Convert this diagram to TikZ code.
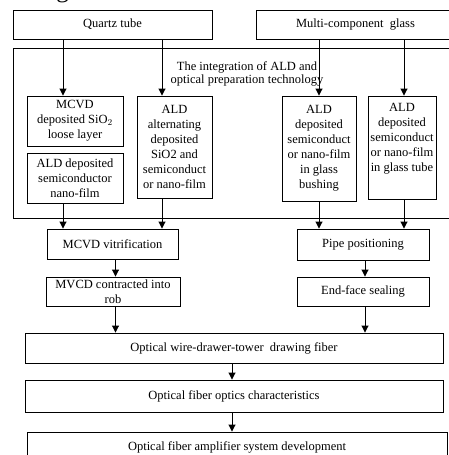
\documentclass[tikz,border=0pt]{standalone}
\usepackage{fontspec}
\setmainfont{Liberation Serif}
\usetikzlibrary{arrows.meta}
\tikzset{
  box/.style={draw, line width=0.9pt, inner sep=0pt, align=center,
    font=\fontsize{12.5}{15}\selectfont},
  arr/.style={line width=0.9pt, -{Triangle[length=7pt,width=7pt]}},
}
\begin{document}
\begin{tikzpicture}[x=1pt,y=-1pt]
\useasboundingbox (0,0) rectangle (448,455);
\node[anchor=base east, inner sep=0pt, font=\fontsize{25}{30}\selectfont] (figref) at (126,-2) {in Figure 1.};
% top sources
\node[box, minimum width=199pt, minimum height=29pt] (quartz) at (112.5,24.5) {Quartz tube};
\node[box, minimum width=199pt, minimum height=29pt] (multi) at (355.5,24.5) {Multi-component\ \ glass};
% container
\node[draw, line width=0.9pt, inner sep=0pt, minimum width=447pt, minimum height=170pt] (cont) at (236.5,133) {};
\node[align=center, inner sep=0pt, font=\fontsize{12.5}{13.5}\selectfont] (cap) at (247,74) {The integration of ALD and\\optical preparation technology};
% inner boxes
\node[box, minimum width=96pt, minimum height=50pt] (mcvd) at (75,121) {MCVD\\deposited SiO$_2$\\loose layer};
\node[box, minimum width=96pt, minimum height=50pt] (semi) at (75,178) {ALD deposited\\semiconductor\\nano-film};
\node[box, minimum width=75pt, minimum height=102pt] (alt) at (174.5,147) {ALD\\alternating\\deposited\\SiO2 and\\semiconduct\\or nano-film};
\node[box, minimum width=74pt, minimum height=105pt] (bush) at (319,148.5) {ALD\\deposited\\semiconduct\\or nano-film\\in glass\\bushing};
\node[box, minimum width=68pt, minimum height=103pt] (tube) at (402,147.5) {ALD\\deposited\\semiconduct\\or nano-film\\in glass tube\\[0pt]\strut};
% middle
\node[box, minimum width=131pt, minimum height=30pt] (vitr) at (112.5,244) {MCVD vitrification};
\node[box, minimum width=132pt, minimum height=31pt] (pipe) at (363,244.5) {Pipe positioning};
\node[box, minimum width=134pt, minimum height=29pt] (contr) at (113,291.5) {MVCD contracted into\\rob};
\node[box, minimum width=132pt, minimum height=29pt] (endf) at (363,291.5) {End-face sealing};
% bottom
\node[box, minimum width=418pt, minimum height=30pt] (wire) at (234,348) {Optical wire-drawer-tower\ \ drawing fiber};
\node[box, minimum width=418pt, minimum height=32pt] (char) at (234,396) {Optical fiber optics characteristics};
\node[box, minimum width=420pt, minimum height=31pt] (amp) at (237,447.5) {Optical fiber amplifier system development};
% columns
\coordinate (c1) at (63,0);
\coordinate (c2) at (162,0);
\coordinate (c3) at (319,0);
\coordinate (c4) at (404,0);
\coordinate (c5) at (115.5,0);
\coordinate (c6) at (365,0);
\coordinate (c7) at (232,0);
% arrows
\draw[arr] (quartz.south -| c1) -- (mcvd.north -| c1);
\draw[arr] (quartz.south -| c2) -- (alt.north -| c2);
\draw[arr] (multi.south -| c3) -- (bush.north -| c3);
\draw[arr] (multi.south -| c4) -- (tube.north -| c4);
\draw[arr] (semi.south -| c1) -- (vitr.north -| c1);
\draw[arr] (alt.south -| c2) -- (vitr.north -| c2);
\draw[arr] (bush.south -| c3) -- (pipe.north -| c3);
\draw[arr] (tube.south -| c4) -- (pipe.north -| c4);
\draw[arr] (vitr.south -| c5) -- (contr.north -| c5);
\draw[arr] (pipe.south -| c6) -- (endf.north -| c6);
\draw[arr] (contr.south -| c5) -- (wire.north -| c5);
\draw[arr] (endf.south -| c6) -- (wire.north -| c6);
\draw[arr] (wire.south -| c7) -- (char.north -| c7);
\draw[arr] (char.south -| c7) -- (amp.north -| c7);
\end{tikzpicture}
\end{document}
